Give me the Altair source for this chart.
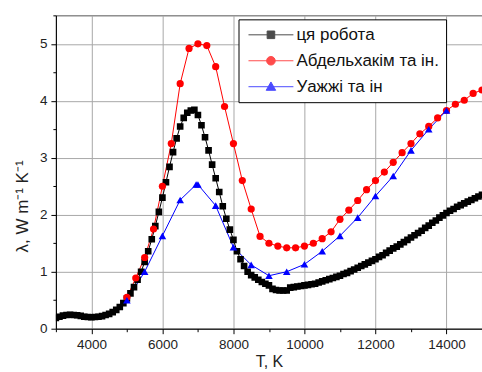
import altair as alt
import pandas as pd

FONT = "Liberation Sans"

series_names = ["ця робота", "Абдельхакім та ін.", "Уажжі та ін"]
series_colors = ["#000000", "#ff0000", "#0000ff"]
point_shapes = ["square", "circle", "triangle-up"]
point_sizes = [44, 52, 58]

# ця робота: step 100 K from 3000 to 15000
t_this = list(range(3000, 15001, 100))
v_this = [
    0.19, 0.21, 0.23, 0.24, 0.245, 0.24, 0.235, 0.225, 0.21, 0.205,
    0.20, 0.205, 0.21, 0.22, 0.24, 0.26, 0.29, 0.33, 0.38, 0.45,
    0.53, 0.62, 0.73, 0.86, 1.00, 1.17, 1.36, 1.57, 1.80, 2.05,
    2.30, 2.57, 2.84, 3.10, 3.34, 3.55, 3.70, 3.79, 3.83, 3.84,
    3.75, 3.57, 3.36, 3.13, 2.88, 2.64, 2.40, 2.15, 1.93, 1.74,
    1.56, 1.36, 1.22, 1.10, 1.00, 0.94, 0.90, 0.86, 0.82, 0.79,
    0.76, 0.70, 0.68, 0.67, 0.67, 0.67, 0.72, 0.73, 0.74, 0.75,
    0.76, 0.77, 0.78, 0.79, 0.81, 0.83, 0.85, 0.87, 0.89, 0.91,
    0.93, 0.96, 0.98, 1.01, 1.04, 1.07, 1.10, 1.13, 1.16, 1.19,
    1.22, 1.26, 1.29, 1.33, 1.37, 1.41, 1.44, 1.48, 1.52, 1.56,
    1.60, 1.64, 1.68, 1.72, 1.77, 1.81, 1.86, 1.90, 1.95, 1.99,
    2.03, 2.07, 2.10, 2.14, 2.17, 2.20, 2.23, 2.26, 2.29, 2.32,
    2.35,
]

# Абдельхакім та ін.: step 250 K
t_abd = list(range(5000, 15001, 250))
v_abd = [
    0.55, 0.89, 1.25, 1.75, 2.50, 3.25, 4.30, 4.92, 5.00, 4.97,
    4.60, 3.90, 3.25, 2.60, 2.10, 1.62, 1.50, 1.45, 1.42, 1.42,
    1.45, 1.50, 1.58, 1.70, 1.92, 2.08, 2.25, 2.44, 2.60, 2.75,
    2.92, 3.09, 3.25, 3.42, 3.55, 3.70, 3.83, 3.94, 4.01, 4.13,
    4.19,
]

# Уажжі та ін: step 500 K
t_wa = [5000, 5500, 6000, 6500, 6950, 7000, 7500, 8000, 8500, 9000,
        9500, 10000, 10500, 11000, 11500, 12000, 12500, 13000, 13500, 14000]
v_wa = [0.50, 1.00, 1.63, 2.26, 2.53, 2.53, 2.16, 1.43, 1.12, 0.93,
        1.00, 1.13, 1.36, 1.63, 1.95, 2.33, 2.68, 3.13, 3.50, 3.83]

x_major = [4000, 6000, 8000, 10000, 12000, 14000]
x_minor = [3000, 5000, 7000, 9000, 11000, 13000, 15000]
y_major = [0, 1, 2, 3, 4, 5]
y_minor = [0.5, 1.5, 2.5, 3.5, 4.5, 5.5]

frames = []
for name, ts, vs in zip(series_names, [t_this, t_abd, t_wa], [v_this, v_abd, v_wa]):
    frames.append(pd.DataFrame({"T": ts, "v": vs, "s": name}))
df = pd.concat(frames, ignore_index=True)

x_scale = alt.Scale(domain=[3000, 15000], nice=False, zero=False)
y_scale = alt.Scale(domain=[0, 5.5], nice=False, zero=False)
color_scale = alt.Scale(domain=series_names, range=series_colors)

axis_common = dict(
    labelFont=FONT, labelFontSize=13.5, labelColor="#222222",
    titleFont=FONT, titleFontWeight="normal", titleColor="#222222",
    domainColor="#000000", tickColor="#000000", domainWidth=1, tickWidth=1,
    gridColor="#a8a8a8", gridWidth=1,
)

x_axis = alt.Axis(values=x_major, tickSize=5, grid=True, title="T, K",
                  titleFontSize=16, labelPadding=4, titlePadding=2,
                  format="d", **axis_common)
y_axis = alt.Axis(values=y_major, tickSize=5, grid=True,
                  title="λ, W m⁻¹ K⁻¹", titleFontSize=17, titleY=191,
                  labelPadding=4, titlePadding=8, format="d", **axis_common)

lines = alt.Chart(df).mark_line(strokeWidth=1, clip=True).encode(
    x=alt.X("T:Q", scale=x_scale, axis=x_axis),
    y=alt.Y("v:Q", scale=y_scale, axis=y_axis),
    color=alt.Color("s:N", scale=color_scale, legend=None),
    detail="s:N",
)

# one marker layer per series, drawn in series order
point_layers = []
for name, shape, size in zip(series_names, point_shapes, point_sizes):
    point_layers.append(
        alt.Chart(df).transform_filter(alt.datum.s == name)
        .mark_point(filled=True, opacity=1, shape=shape, size=size, clip=True)
        .encode(
            x=alt.X("T:Q", scale=x_scale, axis=None),
            y=alt.Y("v:Q", scale=y_scale, axis=None),
            color=alt.Color("s:N", scale=color_scale, legend=None),
        )
    )

minor_axes = alt.Chart(df).mark_point(opacity=0).encode(
    x=alt.X("T:Q", scale=x_scale,
            axis=alt.Axis(values=x_minor, orient="bottom", labels=False, tickSize=3,
                          domain=False, grid=False, title=None, tickColor="#000000")),
    y=alt.Y("v:Q", scale=y_scale,
            axis=alt.Axis(values=y_minor, orient="left", labels=False, tickSize=3,
                          domain=False, grid=False, title=None, tickColor="#000000")),
)

# Legend symbols: a short line segment with the series marker on it
# (symbol size 100 -> 5 px per path unit)
legend_paths = [
    "M-4.5,0H4.5M-0.76,-0.76H0.76V0.76H-0.76Z",
    "M-4.5,0H4.5M-0.86,0A0.86,0.86,0,1,1,0.86,0A0.86,0.86,0,1,1,-0.86,0Z",
    "M-4.5,0H4.5M0,-0.95L0.95,0.72H-0.95Z",
]

legend_def = alt.Legend(
    orient="none", legendX=183, legendY=4,
    labelFont=FONT, labelFontSize=17, labelColor="#111111",
    symbolOffset=17, labelOffset=17,
    symbolSize=100, symbolStrokeWidth=1,
    rowPadding=8, padding=7, strokeColor="#000000",
    fillColor="#ffffff", labelLimit=300,
)

legend_layer = alt.Chart(df).transform_filter("datum.v > 100").mark_point(filled=True).encode(
    x=alt.X("T:Q", scale=x_scale, axis=None),
    y=alt.Y("v:Q", scale=y_scale, axis=None),
    color=alt.Color("s:N", scale=color_scale, title=None, legend=legend_def),
    stroke=alt.Stroke("s:N", scale=alt.Scale(domain=series_names, range=series_colors),
                      title=None, legend=legend_def),
    shape=alt.Shape("s:N", scale=alt.Scale(domain=series_names, range=legend_paths),
                    title=None, legend=legend_def),
)

chart = (
    alt.layer(lines, *point_layers, minor_axes, legend_layer)
    .resolve_axis(x="independent", y="independent")
    .resolve_legend(color="independent", stroke="independent", shape="independent")
    .properties(
        width=427, height=314,
        autosize=alt.AutoSizeParams(type="none"),
        padding={"left": 56, "top": 15, "right": 0, "bottom": 43},
        background="#ffffff",
    )
    .configure_view(stroke="#555555", strokeWidth=1)
)

chart.save("out.html", embed_options={"renderer": "svg", "actions": False})
